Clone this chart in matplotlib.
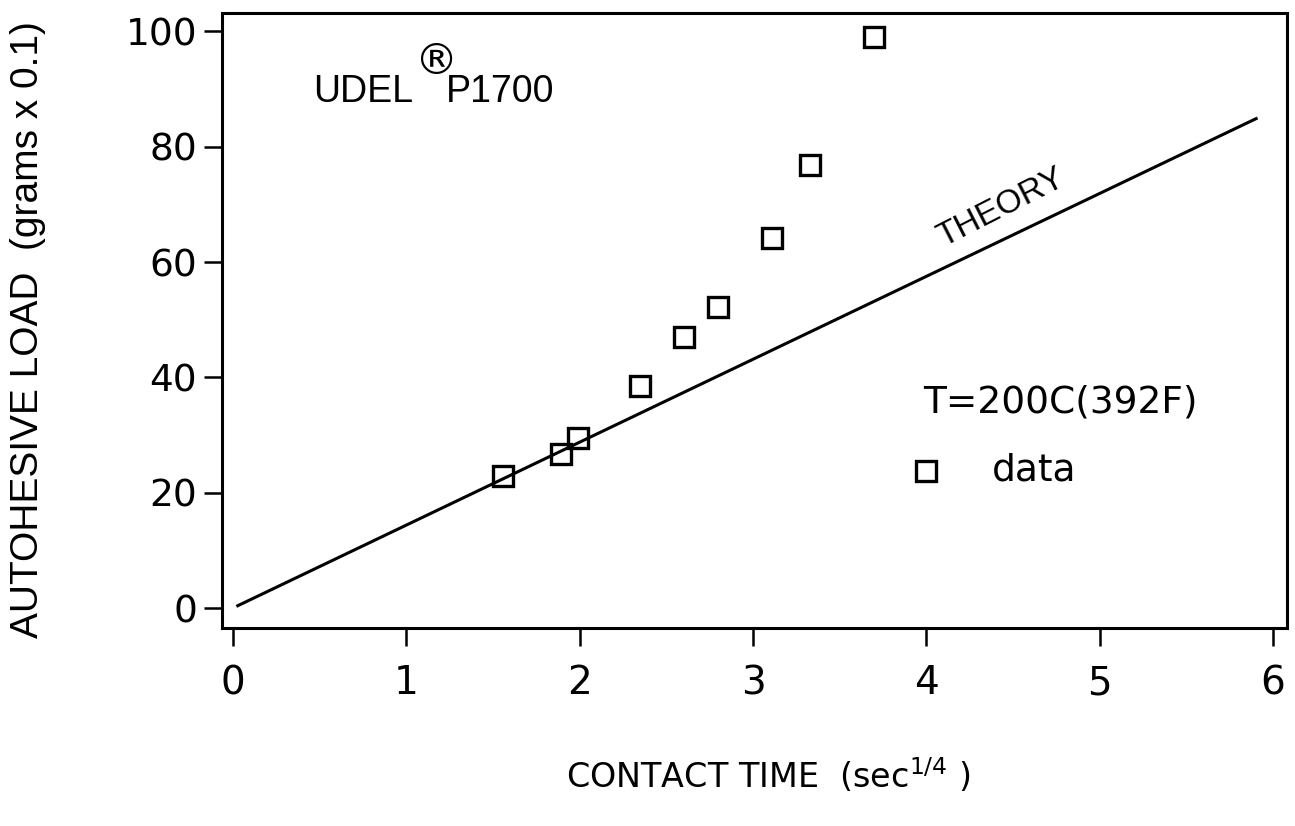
import matplotlib
matplotlib.use("Agg")
import matplotlib.pyplot as plt

plt.rcParams['font.family'] = ['DejaVu Sans']
plt.rcParams['mathtext.fontset'] = 'dejavusans'
ARIAL_LIKE = ['Liberation Sans', 'DejaVu Sans']

# measured autohesive load vs contact time^(1/4)
contact_time = [1.56, 1.89, 1.99, 2.35, 2.60, 2.80, 3.11, 3.33, 3.70]
autohesive_load = [22.9, 26.7, 29.5, 38.5, 47.0, 52.2, 64.1, 76.9, 99.1]

# theoretical linear prediction
theory_x = [0.02, 5.91]
theory_y = [0.3, 85.0]

x_ticks = [0, 1, 2, 3, 4, 5, 6]
y_ticks = [0, 20, 40, 60, 80, 100]

W, H = 1295, 826
fig = plt.figure(figsize=(W / 100, H / 100), dpi=100)
ax = fig.add_axes([222 / W, 1 - 628 / H, (1287 - 222) / W, (628 - 13) / H])

ax.plot(theory_x, theory_y, color='black', lw=2.2, solid_capstyle='butt')
ax.plot(contact_time, autohesive_load, linestyle='none', marker='s', ms=14,
        mfc='none', mec='black', mew=2.4)

ax.set_xlim(-0.063, 6.08)
ax.set_ylim(-3.45, 103.2)
ax.set_xticks(x_ticks)
ax.set_yticks(y_ticks)
ax.tick_params(direction='out', length=13, width=1.8)
ax.tick_params(axis='x', pad=13, labelsize=28)
ax.tick_params(axis='y', pad=5, labelsize=27)
for s in ax.spines.values():
    s.set_linewidth(2.2)

ax.set_xlabel('CONTACT TIME  (sec$^{1/4}$ )', fontsize=24, va='top')
ax.xaxis.set_label_coords(0.513, -0.208)
ax.set_ylabel('AUTOHESIVE LOAD  (grams x 0.1)', fontsize=28,
              family=ARIAL_LIKE)
ax.yaxis.set_label_coords(-0.165, 0.485)

# product name with registered mark
ax.text(0.0855, 0.8553, 'UDEL', transform=ax.transAxes, fontsize=27,
        family=ARIAL_LIKE, ha='left', va='baseline')
ax.text(0.1810, 0.9200, '®', transform=ax.transAxes, fontsize=31,
        ha='left', va='center')
ax.text(0.2100, 0.8553, 'P1700', transform=ax.transAxes, fontsize=27,
        family=ARIAL_LIKE, ha='left', va='baseline')

ax.text(4.43, 69.3, 'THEORY', fontsize=24, rotation=27,
        family=ARIAL_LIKE, ha='center', va='center',
        rotation_mode='anchor')

ax.text(3.98, 33.9, 'T=200C(392F)', fontsize=27, ha='left', va='baseline')
ax.plot([4.0], [23.8], linestyle='none', marker='s', ms=14, mfc='none',
        mec='black', mew=2.4)
ax.text(4.38, 22.1, 'data', fontsize=27, ha='left', va='baseline')

fig.savefig('out.png', dpi=100)
